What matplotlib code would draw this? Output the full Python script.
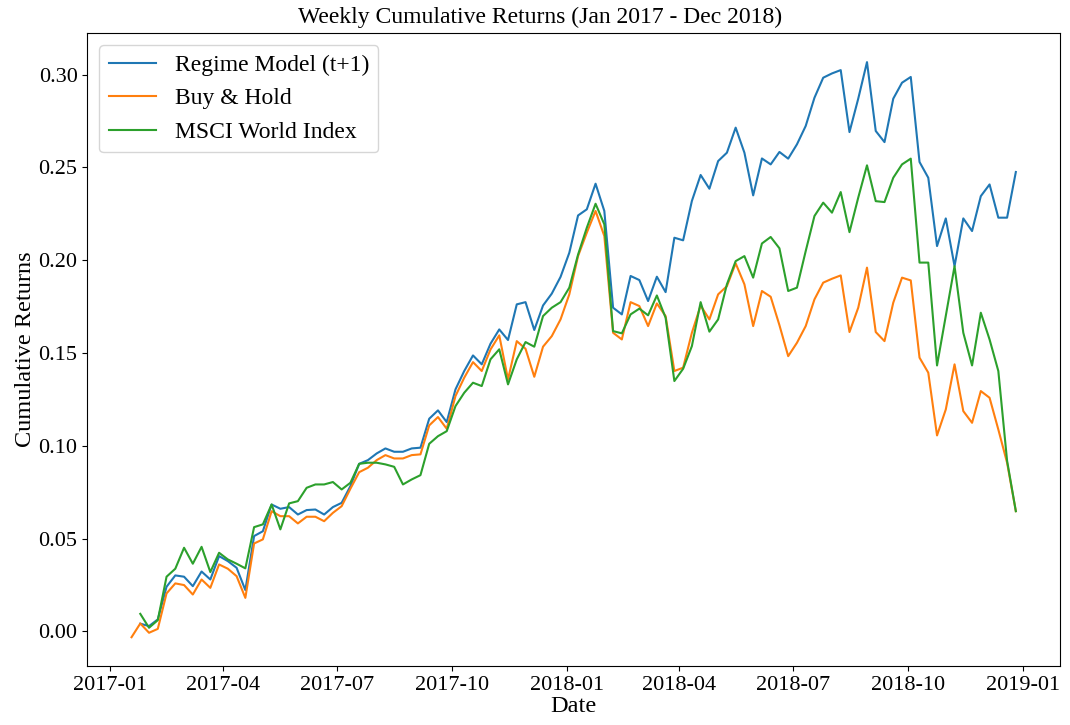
import numpy as np
import pandas as pd
import matplotlib
matplotlib.use("Agg")
import matplotlib.pyplot as plt
import matplotlib.dates as mdates

# weekly observations, Jan 2017 - Dec 2018
dates = pd.date_range("2017-01-18", periods=102, freq="7D")

regime_model = [
    np.nan, 0.0042, 0.0029, 0.0065, 0.0241, 0.0302, 0.0295, 0.0244, 0.0323, 0.0280,
    0.0406, 0.0379, 0.0343, 0.0223, 0.0514, 0.0540, 0.0684, 0.0661, 0.0670, 0.0630,
    0.0654, 0.0657, 0.0630, 0.0670, 0.0693, 0.0783, 0.0903, 0.0923, 0.0959, 0.0986,
    0.0968, 0.0968, 0.0986, 0.0990, 0.1146, 0.1191, 0.1128, 0.1304, 0.1403, 0.1487,
    0.1439, 0.1550, 0.1627, 0.1570, 0.1762, 0.1774, 0.1624, 0.1756, 0.1820, 0.1910,
    0.2040, 0.2241, 0.2274, 0.2412, 0.2265, 0.1744, 0.1708, 0.1915, 0.1893, 0.1780,
    0.1911, 0.1828, 0.2121, 0.2107, 0.2319, 0.2459, 0.2385, 0.2534, 0.2579, 0.2714,
    0.2579, 0.2349, 0.2548, 0.2516, 0.2583, 0.2547, 0.2624, 0.2723, 0.2875, 0.2983,
    0.3006, 0.3024, 0.2690, 0.2870, 0.3067, 0.2696, 0.2636, 0.2870, 0.2956, 0.2987,
    0.2529, 0.2444, 0.2076, 0.2225, 0.1968, 0.2225, 0.2157, 0.2345, 0.2408, 0.2229,
    0.2229, 0.2475,
]

buy_hold = [
    -0.0031, 0.0043, -0.0007, 0.0014, 0.0205, 0.0259, 0.0250, 0.0199, 0.0280, 0.0235,
    0.0361, 0.0338, 0.0298, 0.0181, 0.0474, 0.0496, 0.0648, 0.0621, 0.0621, 0.0582,
    0.0618, 0.0618, 0.0594, 0.0639, 0.0675, 0.0769, 0.0858, 0.0882, 0.0923, 0.0950,
    0.0932, 0.0932, 0.0950, 0.0954, 0.1110, 0.1155, 0.1092, 0.1268, 0.1367, 0.1451,
    0.1403, 0.1519, 0.1595, 0.1358, 0.1564, 0.1523, 0.1372, 0.1534, 0.1591, 0.1681,
    0.1816, 0.2022, 0.2148, 0.2265, 0.2130, 0.1609, 0.1573, 0.1774, 0.1753, 0.1645,
    0.1767, 0.1699, 0.1403, 0.1421, 0.1609, 0.1756, 0.1681, 0.1816, 0.1860, 0.1983,
    0.1870, 0.1645, 0.1834, 0.1803, 0.1650, 0.1483, 0.1555, 0.1645, 0.1789, 0.1879,
    0.1900, 0.1918, 0.1613, 0.1744, 0.1960, 0.1613, 0.1564, 0.1771, 0.1906, 0.1891,
    0.1475, 0.1394, 0.1056, 0.1196, 0.1439, 0.1187, 0.1124, 0.1295, 0.1259, 0.1088,
    0.0909, 0.0648,
]

msci_world = [
    np.nan, 0.0095, 0.0020, 0.0061, 0.0295, 0.0338, 0.0451, 0.0365, 0.0456, 0.0320,
    0.0424, 0.0388, 0.0365, 0.0340, 0.0562, 0.0577, 0.0684, 0.0550, 0.0690, 0.0702,
    0.0774, 0.0792, 0.0792, 0.0805, 0.0765, 0.0801, 0.0903, 0.0909, 0.0909, 0.0900,
    0.0887, 0.0792, 0.0819, 0.0842, 0.1011, 0.1052, 0.1079, 0.1214, 0.1286, 0.1340,
    0.1322, 0.1466, 0.1520, 0.1331, 0.1466, 0.1559, 0.1534, 0.1699, 0.1744, 0.1774,
    0.1852, 0.2030, 0.2175, 0.2304, 0.2193, 0.1618, 0.1606, 0.1708, 0.1739, 0.1703,
    0.1810, 0.1690, 0.1349, 0.1415, 0.1537, 0.1774, 0.1615, 0.1681, 0.1870, 0.1995,
    0.2022, 0.1906, 0.2090, 0.2125, 0.2064, 0.1834, 0.1852, 0.2049, 0.2238, 0.2310,
    0.2256, 0.2367, 0.2151, 0.2337, 0.2511, 0.2318, 0.2313, 0.2444, 0.2516, 0.2547,
    0.1987, 0.1987, 0.1433, 0.1700, 0.1968, 0.1609, 0.1433, 0.1717, 0.1573, 0.1403,
    0.0920, 0.0648,
]

plt.rcParams["font.family"] = ["Liberation Serif", "DejaVu Serif"]

fig, ax = plt.subplots(figsize=(10.7, 7.25), dpi=100)
fig.subplots_adjust(left=0.0816, right=0.9907, top=0.954, bottom=0.0814)

ax.plot(dates, regime_model, label="Regime Model (t+1)")
ax.plot(dates, buy_hold, label="Buy & Hold")
ax.plot(dates, msci_world, label="MSCI World Index")

ax.xaxis.set_major_locator(mdates.MonthLocator(bymonth=[1, 4, 7, 10]))
ax.xaxis.set_major_formatter(mdates.DateFormatter("%Y-%m"))
ax.tick_params(labelsize=16)

# title sits centred on the figure rather than the axes in the original
fig.text(0.505, 0.976, "Weekly Cumulative Returns (Jan 2017 - Dec 2018)",
         fontsize=17, ha="center", va="center")
ax.set_xlabel("Date", fontsize=17.5, labelpad=1)
ax.set_ylabel("Cumulative Returns", fontsize=17.5, labelpad=2)
ax.legend(loc="upper left", fontsize=17)

fig.savefig("out.png")
